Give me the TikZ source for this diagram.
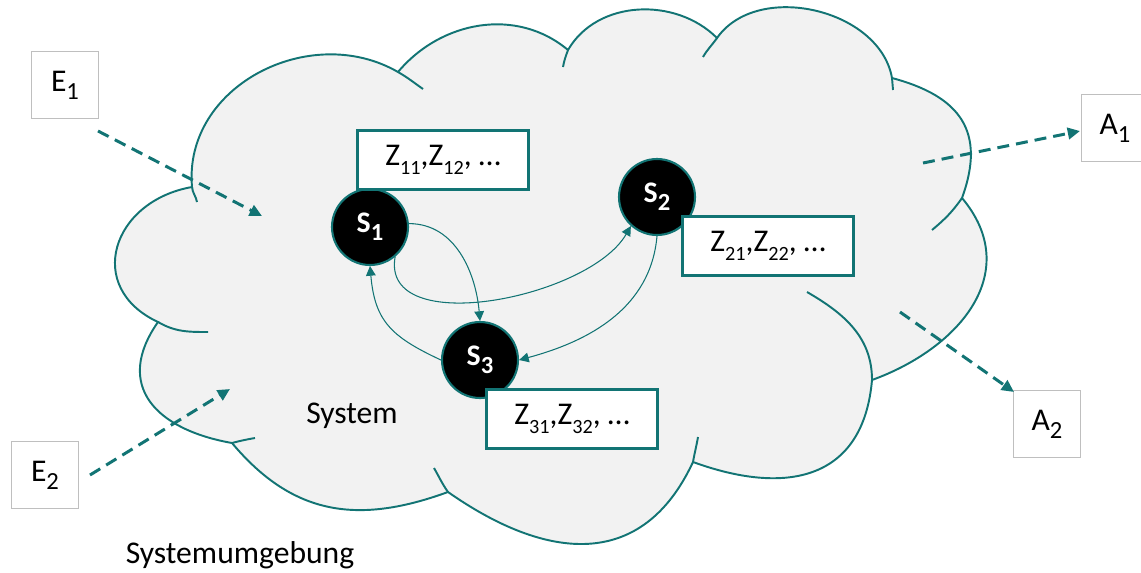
\documentclass[tikz,border=0pt]{standalone}
\usepackage{fontspec}
\setmainfont{Carlito}
\usepackage{tikz}
\usetikzlibrary{arrows.meta, positioning}
\usepackage{xcolor}
\definecolor{tealline}{RGB}{18,116,116}
\definecolor{cloudgray}{RGB}{242,242,242}
\definecolor{boxgray}{RGB}{191,191,191}
\newcommand{\zsub}[1]{\raisebox{-5.5pt}{\fontsize{11.5}{12}\selectfont #1}}
\newcommand{\ssub}[1]{\raisebox{-4.5pt}{\fontsize{14}{15}\selectfont #1}}
\tikzset{%
	state/.style={
		circle,
		draw=tealline,
		line width=1.2pt,
		fill=black,
		text=white,
		minimum size=1.52cm,
		inner sep=0pt,
		font=\fontsize{17}{20}\selectfont\bfseries
	},
	zbox/.style={
		draw=tealline,
		line width=1.2pt,
		fill=white,
		minimum width=3.42cm,
		minimum height=1.18cm,
		inner sep=0pt
	},
	envbox/.style={
		draw=boxgray,
		line width=0.6pt,
		fill=white,
		minimum width=1.34cm,
		minimum height=1.33cm,
		inner sep=0pt
	},
}

\begin{document}
\begin{tikzpicture}[
				x=0.02cm, y=0.02cm,
				font=\fontsize{18}{22}\selectfont,
				cloudline/.style={draw=tealline, line width=1.1pt},
				flow/.style={draw=tealline, line width=1.7pt, dash pattern=on 6.8pt off 4pt, -{Triangle[length=7pt, width=6.5pt]}},
				trans/.style={draw=tealline, line width=0.6pt, -{Triangle[length=5.5pt, width=5.5pt]}}
				]
				\useasboundingbox (0,0) rectangle (1141,-572);
				
				% cloud junctions
				\coordinate (J1) at (192,-187);
				\coordinate (J2) at (398,-72);
				\coordinate (J3) at (568,-50);
				\coordinate (J4) at (717,-38);
				\coordinate (J5) at (892,-78);
				\coordinate (J6) at (962,-198);
				\coordinate (J7) at (872,-380);
				\coordinate (J8) at (693,-462);
				\coordinate (J9) at (448,-492);
				\coordinate (J10) at (232,-443);
				\coordinate (J11) at (158,-322);
				
				% the cloud
				\path[cloudline, fill=cloudgray]
				(J1) to[out=95, in=150, looseness=1.1] (J2)
				to[out=50, in=140] (J3)
				to[out=60, in=135] (J4)
				to[out=55, in=100] (J5)
				to[out=-15, in=70, looseness=1.3] (J6)
				to[out=-50, in=20, looseness=1.2] (J7)
				to[out=-95, in=-20, looseness=1.3] (J8)
				to[out=-115, in=-35, looseness=1.25] (J9)
				to[out=-160, in=-50, looseness=1.1] (J10)
				to[out=170, in=-125, looseness=1.4] (J11)
				to[out=155, in=-170, looseness=1.5] (J1) -- cycle;
				
				% inner strokes of the cloud
				\draw[cloudline] (J1) to[out=-85, in=100] (197,-202);
				\draw[cloudline] (J2) to[out=-30, in=145] (423,-89);
				\draw[cloudline] (J3) to[out=-110, in=80] (563,-67);
				\draw[cloudline] (J4) to[out=-125, in=60] (703,-57);
				\draw[cloudline] (J5) -- (893,-90);
				\draw[cloudline] (J6) to[out=-125, in=40] (932,-230);
				\draw[cloudline] (J7) to[out=90, in=-30] (807,-292);
				\draw[cloudline] (J8) to[out=80, in=-100] (698,-437);
				\draw[cloudline] (J9) to[out=125, in=-60] (434,-468);
				\draw[cloudline] (J10) to[out=15, in=-170] (255,-438);
				\draw[cloudline] (J11) to[out=-30, in=180] (208,-332);
				
				% states
				\node[state] (S1) at (370,-227) {S\ssub{1}};
				\node[state] (S2) at (657,-197) {S\ssub{2}};
				\node[state] (S3) at (480,-360) {S\ssub{3}};
				
				\node[zbox] (Z1) at (443,-160) {Z\zsub{11},Z\zsub{12}, …};
				\node[zbox] (Z2) at (768,-246) {Z\zsub{21},Z\zsub{22}, …};
				\node[zbox] (Z3) at (572,-419) {Z\zsub{31},Z\zsub{32}, …};
				
				% transitions
				\draw[trans] (S1.5) to[out=0, in=95] (S3.north);
				\draw[trans] (S1.-50) to[out=-100, in=-120, looseness=0.9] (S2.-132);
				\draw[trans] (S2.south) to[out=-95, in=15] (S3.east);
				\draw[trans] (S3.west) to[out=155, in=-85, looseness=1.2] (S1.south);
				
				% inputs and outputs
				\node[envbox] (E1) at (65,-85) {E\ssub{1}};
				\node[envbox] (E2) at (45,-475) {E\ssub{2}};
				\node[envbox] (A1) at (1115,-128) {A\ssub{1}};
				\node[envbox] (A2) at (1047,-424) {A\ssub{2}};
				
				\coordinate (e1s) at (98,-131);
				\coordinate (e1t) at (262,-216);
				\coordinate (e2s) at (90,-475);
				\coordinate (e2t) at (230,-389);
				\coordinate (a1s) at (923,-163);
				\coordinate (a1t) at (1080,-131);
				\coordinate (a2s) at (900,-312);
				\coordinate (a2t) at (1014,-392);
				\draw[flow] (e1s) -- (e1t);
				\draw[flow] (e2s) -- (e2t);
				\draw[flow] (a1s) -- (a1t);
				\draw[flow] (a2s) -- (a2t);
				
				% labels
				\node (sys) at (352,-416) {System};
				\node (env) at (240,-555) {Systemumgebung};
				
			\end{tikzpicture}
\end{document}
